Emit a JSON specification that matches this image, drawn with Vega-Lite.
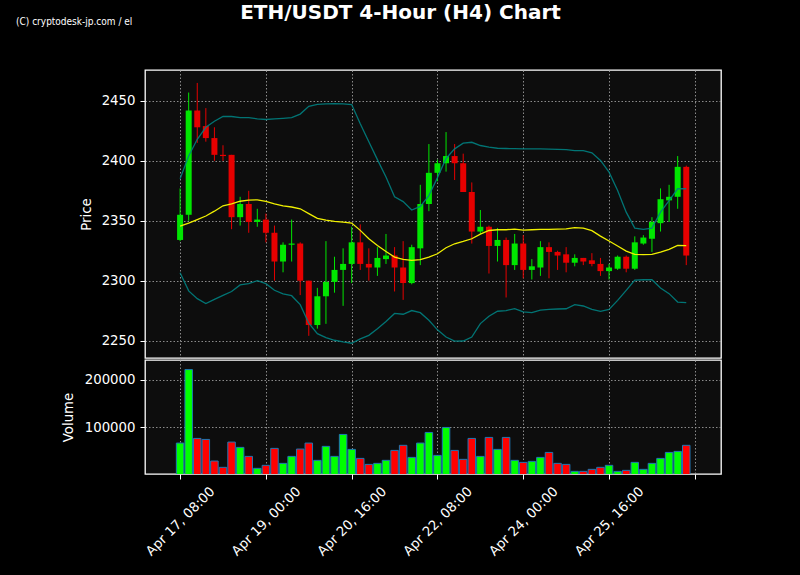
{
  "$schema": "https://vega.github.io/schema/vega-lite/v6.json",
  "background": "black",
  "padding": {"left": 15, "top": 3, "right": 82, "bottom": 30},
  "spacing": 0,
  "config": {
    "view": {"fill": "#0d0d0d", "stroke": "white", "strokeWidth": 1.3},
    "scale": {"continuousPadding": 0},
    "axis": {
      "labelColor": "white", "titleColor": "white", "tickColor": "white",
      "domain": false, "labelFont": "DejaVu Sans", "titleFont": "DejaVu Sans",
      "labelFontSize": 13.3, "titleFontSize": 13.3, "titleFontWeight": "normal",
      "gridColor": "#9a9a9a", "gridDash": [1.5, 2], "gridWidth": 0.9,
      "tickSize": 5, "tickWidth": 1, "labelPadding": 5
    }
  },
  "title": {
    "text": "ETH/USDT 4-Hour (H4) Chart",
    "color": "white", "font": "DejaVu Sans", "fontSize": 20, "fontWeight": "bold",
    "anchor": "middle", "frame": "bounds", "dx": 32, "offset": -6.5
  },
  "datasets": {
    "candles": [
      {"t":"2025-04-17T08:00:00Z","o":2334,"h":2377,"l":2333,"c":2355,"v":67300,"ub":2385,"mb":2345.5,"lb":2306.7},
      {"t":"2025-04-17T12:00:00Z","o":2355,"h":2457,"l":2350,"c":2442,"v":220800,"ub":2404,"mb":2348,"lb":2291.5},
      {"t":"2025-04-17T16:00:00Z","o":2442,"h":2465,"l":2415,"c":2428,"v":77000,"ub":2418,"mb":2351,"lb":2285},
      {"t":"2025-04-17T20:00:00Z","o":2429,"h":2444,"l":2416,"c":2419,"v":74900,"ub":2428,"mb":2354,"lb":2281},
      {"t":"2025-04-18T00:00:00Z","o":2419,"h":2428,"l":2400,"c":2405,"v":29800,"ub":2433,"mb":2358,"lb":2284.4},
      {"t":"2025-04-18T04:00:00Z","o":2405,"h":2413,"l":2400,"c":2404,"v":16600,"ub":2437,"mb":2362.5,"lb":2287.8},
      {"t":"2025-04-18T08:00:00Z","o":2405,"h":2405,"l":2343,"c":2353,"v":69400,"ub":2437,"mb":2364,"lb":2291},
      {"t":"2025-04-18T12:00:00Z","o":2353,"h":2370,"l":2346,"c":2364,"v":58300,"ub":2436,"mb":2366.3,"lb":2296.5},
      {"t":"2025-04-18T16:00:00Z","o":2364,"h":2375,"l":2340,"c":2349,"v":39500,"ub":2436,"mb":2367.2,"lb":2297.5},
      {"t":"2025-04-18T20:00:00Z","o":2349,"h":2360,"l":2345,"c":2351,"v":14500,"ub":2435,"mb":2367.5,"lb":2300},
      {"t":"2025-04-19T00:00:00Z","o":2351,"h":2356,"l":2332,"c":2340,"v":20800,"ub":2434.5,"mb":2366.2,"lb":2297.5},
      {"t":"2025-04-19T04:00:00Z","o":2340,"h":2346,"l":2300,"c":2316,"v":56200,"ub":2435,"mb":2364,"lb":2292},
      {"t":"2025-04-19T08:00:00Z","o":2316,"h":2332,"l":2307,"c":2330,"v":24900,"ub":2435.5,"mb":2362.5,"lb":2289},
      {"t":"2025-04-19T12:00:00Z","o":2330,"h":2351,"l":2316,"c":2331,"v":39500,"ub":2436,"mb":2361.5,"lb":2287.5},
      {"t":"2025-04-19T16:00:00Z","o":2331,"h":2332,"l":2288,"c":2300,"v":54800,"ub":2439,"mb":2360,"lb":2280},
      {"t":"2025-04-19T20:00:00Z","o":2300,"h":2300,"l":2254,"c":2263,"v":67300,"ub":2445.5,"mb":2356,"lb":2264.5},
      {"t":"2025-04-20T00:00:00Z","o":2263,"h":2294,"l":2260,"c":2287,"v":31200,"ub":2447.2,"mb":2352,"lb":2255.8},
      {"t":"2025-04-20T04:00:00Z","o":2287,"h":2333,"l":2264,"c":2299,"v":60400,"ub":2447.5,"mb":2350.5,"lb":2252.5},
      {"t":"2025-04-20T08:00:00Z","o":2299,"h":2320,"l":2290,"c":2309,"v":39500,"ub":2447.8,"mb":2349.5,"lb":2250.3},
      {"t":"2025-04-20T12:00:00Z","o":2309,"h":2327,"l":2279,"c":2314,"v":85300,"ub":2447.6,"mb":2348.8,"lb":2248.9},
      {"t":"2025-04-20T16:00:00Z","o":2314,"h":2345,"l":2298,"c":2332,"v":54100,"ub":2447,"mb":2348.1,"lb":2247.8},
      {"t":"2025-04-20T20:00:00Z","o":2332,"h":2347,"l":2309,"c":2314,"v":35300,"ub":2431,"mb":2342,"lb":2251.5},
      {"t":"2025-04-21T00:00:00Z","o":2314,"h":2327,"l":2300,"c":2311,"v":22800,"ub":2416,"mb":2335,"lb":2254.4},
      {"t":"2025-04-21T04:00:00Z","o":2311,"h":2328,"l":2304,"c":2319,"v":24900,"ub":2401,"mb":2329.4,"lb":2260},
      {"t":"2025-04-21T08:00:00Z","o":2318,"h":2339,"l":2314,"c":2321,"v":31200,"ub":2386.5,"mb":2324.4,"lb":2266},
      {"t":"2025-04-21T12:00:00Z","o":2321,"h":2328,"l":2291,"c":2311,"v":52000,"ub":2370,"mb":2319.7,"lb":2272.7},
      {"t":"2025-04-21T16:00:00Z","o":2311,"h":2333,"l":2284,"c":2298,"v":62600,"ub":2366,"mb":2317.8,"lb":2272},
      {"t":"2025-04-21T20:00:00Z","o":2298,"h":2330,"l":2297,"c":2328,"v":37400,"ub":2359,"mb":2316.9,"lb":2275.1},
      {"t":"2025-04-22T00:00:00Z","o":2327,"h":2380,"l":2313,"c":2364,"v":67300,"ub":2362,"mb":2317.5,"lb":2273.3},
      {"t":"2025-04-22T04:00:00Z","o":2364,"h":2414,"l":2358,"c":2390,"v":89500,"ub":2371,"mb":2319.6,"lb":2267},
      {"t":"2025-04-22T08:00:00Z","o":2390,"h":2401,"l":2383,"c":2398,"v":41600,"ub":2386,"mb":2322.5,"lb":2259},
      {"t":"2025-04-22T12:00:00Z","o":2398,"h":2424,"l":2391,"c":2404,"v":99900,"ub":2402,"mb":2327.5,"lb":2253},
      {"t":"2025-04-22T16:00:00Z","o":2404,"h":2414,"l":2384,"c":2398,"v":52000,"ub":2410,"mb":2330.8,"lb":2249.6},
      {"t":"2025-04-22T20:00:00Z","o":2398,"h":2406,"l":2374,"c":2374,"v":33300,"ub":2414.7,"mb":2332.8,"lb":2249.7},
      {"t":"2025-04-23T00:00:00Z","o":2374,"h":2382,"l":2331,"c":2341,"v":77000,"ub":2415.5,"mb":2335,"lb":2253},
      {"t":"2025-04-23T04:00:00Z","o":2341,"h":2359,"l":2339,"c":2345,"v":39500,"ub":2412.8,"mb":2338.9,"lb":2264.2},
      {"t":"2025-04-23T08:00:00Z","o":2345,"h":2346,"l":2306,"c":2329,"v":79100,"ub":2411.4,"mb":2341.9,"lb":2270.4},
      {"t":"2025-04-23T12:00:00Z","o":2329,"h":2344,"l":2316,"c":2334,"v":54100,"ub":2410.5,"mb":2342.5,"lb":2274.5},
      {"t":"2025-04-23T16:00:00Z","o":2334,"h":2336,"l":2286,"c":2313,"v":79100,"ub":2410.3,"mb":2342.5,"lb":2275.1},
      {"t":"2025-04-23T20:00:00Z","o":2313,"h":2339,"l":2309,"c":2331,"v":31200,"ub":2410.2,"mb":2343.1,"lb":2276.7},
      {"t":"2025-04-24T00:00:00Z","o":2331,"h":2338,"l":2302,"c":2309,"v":27000,"ub":2410,"mb":2342.2,"lb":2273.9},
      {"t":"2025-04-24T04:00:00Z","o":2309,"h":2318,"l":2301,"c":2312,"v":29100,"ub":2410,"mb":2342.5,"lb":2273.3},
      {"t":"2025-04-24T08:00:00Z","o":2311,"h":2333,"l":2304,"c":2328,"v":37400,"ub":2410,"mb":2342.8,"lb":2275.5},
      {"t":"2025-04-24T12:00:00Z","o":2328,"h":2332,"l":2302,"c":2324,"v":47800,"ub":2409.8,"mb":2342.8,"lb":2276.1},
      {"t":"2025-04-24T16:00:00Z","o":2324,"h":2325,"l":2309,"c":2321,"v":24900,"ub":2409.6,"mb":2343.1,"lb":2276.4},
      {"t":"2025-04-24T20:00:00Z","o":2322,"h":2328,"l":2307,"c":2315,"v":22800,"ub":2409.4,"mb":2343.2,"lb":2276.6},
      {"t":"2025-04-25T00:00:00Z","o":2315,"h":2322,"l":2312,"c":2319,"v":8200,"ub":2408.6,"mb":2344.2,"lb":2280},
      {"t":"2025-04-25T04:00:00Z","o":2319,"h":2319,"l":2313,"c":2316,"v":8200,"ub":2408.6,"mb":2343.9,"lb":2278.9},
      {"t":"2025-04-25T08:00:00Z","o":2317,"h":2323,"l":2312,"c":2314,"v":12400,"ub":2406.7,"mb":2341.7,"lb":2276.1},
      {"t":"2025-04-25T12:00:00Z","o":2314,"h":2319,"l":2304,"c":2308,"v":16600,"ub":2400.3,"mb":2337.2,"lb":2274.4},
      {"t":"2025-04-25T16:00:00Z","o":2308,"h":2314,"l":2301,"c":2311,"v":20800,"ub":2390.6,"mb":2333.1,"lb":2276.1},
      {"t":"2025-04-25T20:00:00Z","o":2310,"h":2321,"l":2309,"c":2320,"v":8200,"ub":2375.3,"mb":2328.9,"lb":2283.6},
      {"t":"2025-04-26T00:00:00Z","o":2320,"h":2321,"l":2307,"c":2310,"v":10300,"ub":2357.2,"mb":2324.7,"lb":2291.9},
      {"t":"2025-04-26T04:00:00Z","o":2310,"h":2337,"l":2309,"c":2332,"v":27000,"ub":2343.9,"mb":2321.9,"lb":2300.5},
      {"t":"2025-04-26T08:00:00Z","o":2331,"h":2338,"l":2330,"c":2336,"v":12400,"ub":2342.8,"mb":2321.7,"lb":2300.8},
      {"t":"2025-04-26T12:00:00Z","o":2335,"h":2353,"l":2324,"c":2349,"v":24900,"ub":2343.9,"mb":2321.9,"lb":2300.8},
      {"t":"2025-04-26T16:00:00Z","o":2348,"h":2377,"l":2341,"c":2368,"v":35300,"ub":2357.2,"mb":2323.9,"lb":2293.9},
      {"t":"2025-04-26T20:00:00Z","o":2367,"h":2380,"l":2349,"c":2370,"v":47800,"ub":2366.9,"mb":2326.1,"lb":2289.2},
      {"t":"2025-04-27T00:00:00Z","o":2370,"h":2404,"l":2360,"c":2395,"v":49900,"ub":2376.7,"mb":2329.4,"lb":2282.2},
      {"t":"2025-04-27T04:00:00Z","o":2395,"h":2396,"l":2313,"c":2321,"v":62600,"ub":2376.7,"mb":2329.2,"lb":2281.7}
    ]
  },
  "vconcat": [
    {
      "width": 576,
      "height": 288,
      "data": {"name": "candles"},
      "title": {
        "text": "(C) cryptodesk-jp.com / el",
        "color": "white", "font": "Liberation Sans Narrow, DejaVu Sans Condensed, sans-serif",
        "fontSize": 10, "fontWeight": "normal",
        "anchor": "start", "frame": "group", "dx": -129, "offset": 34.8, "baseline": "alphabetic"
      },
      "encoding": {
        "x": {
          "field": "t", "type": "temporal",
          "scale": {"type": "utc", "padding": 0, "domain": [
            {"year": 2025, "month": "apr", "date": 16, "hours": 15, "minutes": 38, "utc": true},
            {"year": 2025, "month": "apr", "date": 27, "hours": 20, "minutes": 12, "utc": true}
          ]},
          "axis": {
            "title": null, "labels": false, "ticks": false, "grid": true,
            "values": [
              {"year": 2025, "month": "apr", "date": 17, "hours": 8, "utc": true},
              {"year": 2025, "month": "apr", "date": 19, "hours": 0, "utc": true},
              {"year": 2025, "month": "apr", "date": 20, "hours": 16, "utc": true},
              {"year": 2025, "month": "apr", "date": 22, "hours": 8, "utc": true},
              {"year": 2025, "month": "apr", "date": 24, "hours": 0, "utc": true},
              {"year": 2025, "month": "apr", "date": 25, "hours": 16, "utc": true},
              {"year": 2025, "month": "apr", "date": 27, "hours": 8, "utc": true}
            ]
          }
        }
      },
      "layer": [
        {
          "mark": {"type": "rule", "strokeWidth": 1},
          "encoding": {
            "y": {"field": "l", "type": "quantitative",
              "scale": {"domain": [2235.5, 2475.8], "zero": false, "nice": false, "padding": 0},
              "axis": {"title": "Price", "values": [2250, 2300, 2350, 2400, 2450], "format": "d", "grid": true, "titlePadding": 8}},
            "y2": {"field": "h"},
            "color": {"condition": {"test": "datum.c >= datum.o", "value": "#00e600"}, "value": "#e60000"}
          }
        },
        {
          "mark": {"type": "bar", "size": 6},
          "encoding": {
            "y": {"field": "o", "type": "quantitative"},
            "y2": {"field": "c"},
            "color": {"condition": {"test": "datum.c >= datum.o", "value": "#00e600"}, "value": "#e60000"}
          }
        },
        {
          "mark": {"type": "line", "color": "#008080", "strokeWidth": 1.3, "opacity": 0.9},
          "encoding": {"y": {"field": "ub", "type": "quantitative"}}
        },
        {
          "mark": {"type": "line", "color": "#f0f000", "strokeWidth": 1.3},
          "encoding": {"y": {"field": "mb", "type": "quantitative"}}
        },
        {
          "mark": {"type": "line", "color": "#008080", "strokeWidth": 1.3, "opacity": 0.9},
          "encoding": {"y": {"field": "lb", "type": "quantitative"}}
        }
      ]
    },
    {
      "width": 576,
      "height": 114,
      "data": {"name": "candles"},
      "mark": {"type": "bar", "size": 7.5, "stroke": "#1f77b4", "strokeWidth": 1, "clip": true},
      "encoding": {
        "x": {
          "field": "t", "type": "temporal",
          "scale": {"type": "utc", "padding": 0, "domain": [
            {"year": 2025, "month": "apr", "date": 16, "hours": 15, "minutes": 38, "utc": true},
            {"year": 2025, "month": "apr", "date": 27, "hours": 20, "minutes": 12, "utc": true}
          ]},
          "axis": {
            "title": null, "grid": true, "labelAngle": -45, "labelAlign": "center", "labelBaseline": "middle",
            "labelPadding": 42, "labelOverlap": false, "labelFlush": false, "labelBound": false,
            "labelExpr": "datum.index < 1 ? utcFormat(datum.value, '%b %d, %H:%M') : ''",
            "values": [
              {"year": 2025, "month": "apr", "date": 17, "hours": 8, "utc": true},
              {"year": 2025, "month": "apr", "date": 19, "hours": 0, "utc": true},
              {"year": 2025, "month": "apr", "date": 20, "hours": 16, "utc": true},
              {"year": 2025, "month": "apr", "date": 22, "hours": 8, "utc": true},
              {"year": 2025, "month": "apr", "date": 24, "hours": 0, "utc": true},
              {"year": 2025, "month": "apr", "date": 25, "hours": 16, "utc": true},
              {"year": 2025, "month": "apr", "date": 27, "hours": 8, "utc": true}
            ]
          }
        },
        "y": {
          "field": "v", "type": "quantitative",
          "scale": {"domain": [2700, 240800], "zero": false, "nice": false, "padding": 0},
          "axis": {"title": "Volume", "values": [100000, 200000], "format": "d", "grid": true, "titlePadding": 9}
        },
        "color": {"condition": {"test": "datum.c >= datum.o", "value": "#00ff00"}, "value": "#ff0000"}
      }
    }
  ]
}
